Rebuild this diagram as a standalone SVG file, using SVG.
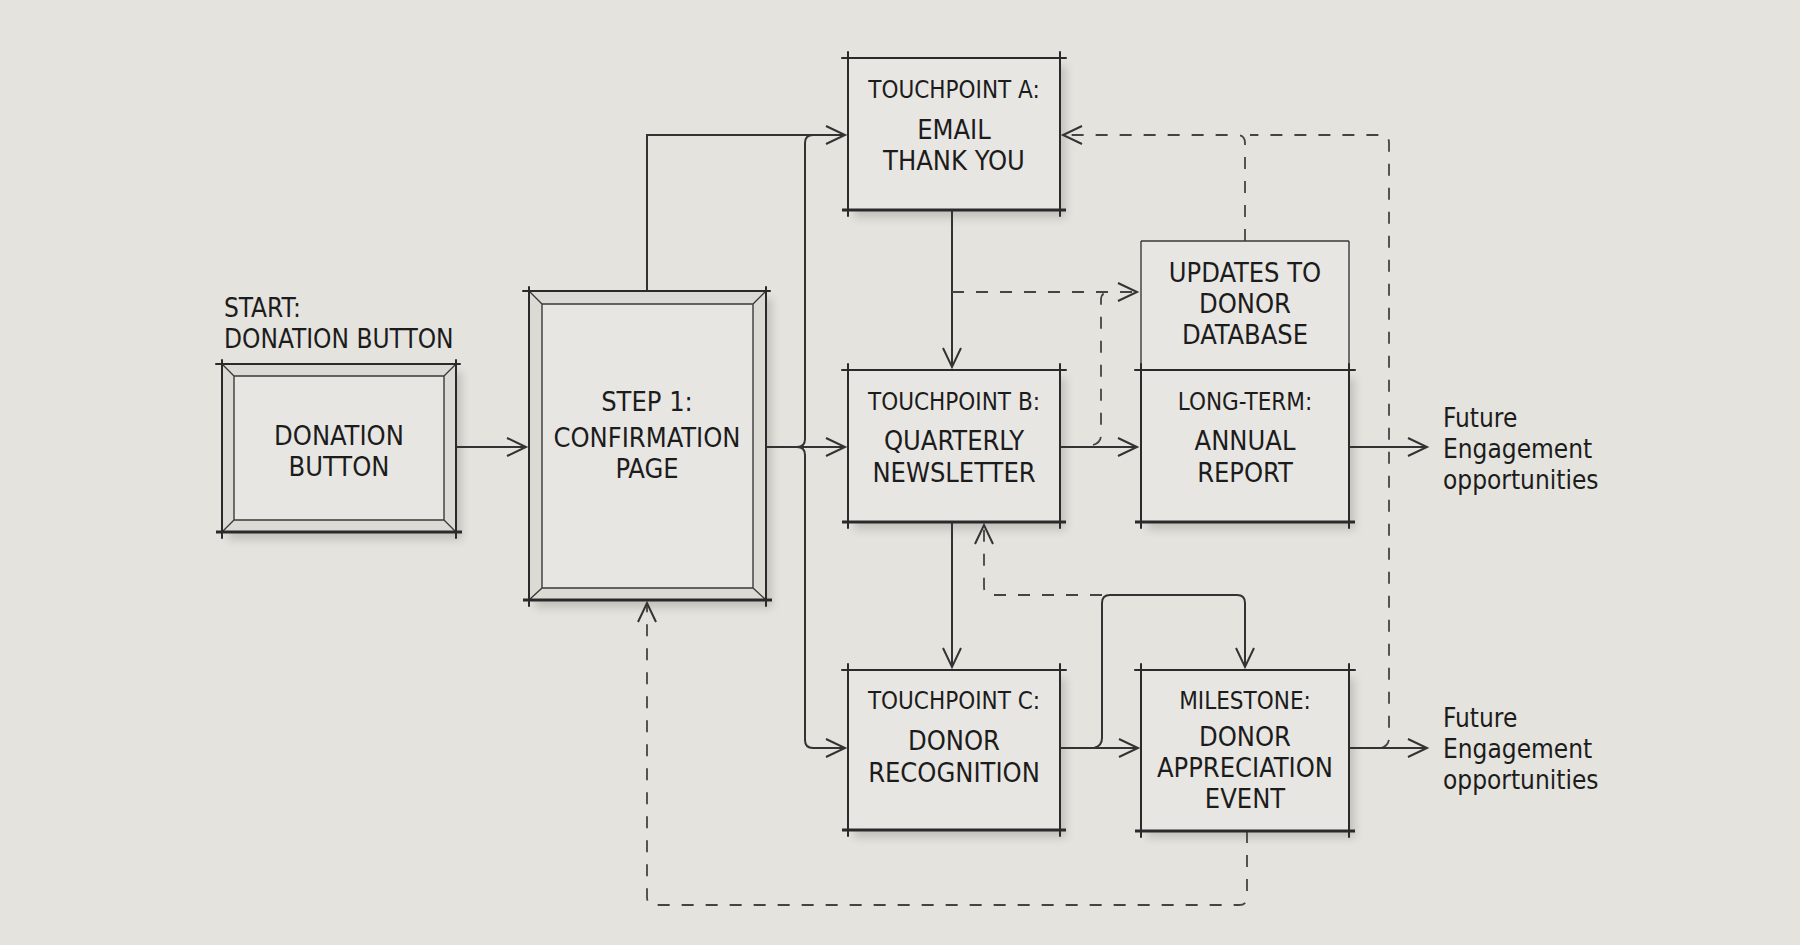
<svg xmlns="http://www.w3.org/2000/svg" width="1800" height="945" viewBox="0 0 1800 945">
<defs>
<style>
.bg{fill:#e5e3de}
.box{fill:#e8e6e2}
.edge{stroke:#2a2a2a;stroke-width:2;fill:none;stroke-linecap:round}
.edgeb{stroke:#2a2a2a;stroke-width:3;fill:none}
.thin{stroke:#3a3a3a;stroke-width:1.4;fill:none}
.band{fill:#dcdad5}
.lbl{font-family:"DejaVu Sans Condensed","DejaVu Sans",sans-serif;fill:#1c1c1c;text-anchor:middle}
.t{font-size:24px}
.m{font-size:27px}
.fut{font-family:"DejaVu Sans Condensed","DejaVu Sans",sans-serif;font-size:26px;fill:#1c1c1c}
.con{stroke:#333;stroke-width:2;fill:none}
.dash{stroke:#444;stroke-width:1.8;fill:none;stroke-dasharray:12 12}
</style>
<filter id="sh" x="-10%" y="-10%" width="130%" height="130%">
<feGaussianBlur stdDeviation="4"/>
</filter>
<marker id="arr" viewBox="0 0 24 24" markerWidth="24" markerHeight="24" refX="21" refY="12" orient="auto" markerUnits="userSpaceOnUse">
<path d="M2,3 L21,12 L2,21" fill="none" stroke="#333" stroke-width="2" stroke-dasharray="none" stroke-linejoin="miter"/>
</marker>
</defs>
<rect class="bg" x="0" y="0" width="1800" height="945"/>

<!-- shadows -->
<g id="shadows" fill="#9c9a95" opacity="0.45" filter="url(#sh)">
<rect x="228" y="372" width="234" height="168"/>
<rect x="535" y="298" width="237" height="310"/>
<rect x="854" y="66" width="212" height="152"/>
<rect x="854" y="378" width="212" height="152"/>
<rect x="854" y="678" width="212" height="160"/>
<rect x="1147" y="378" width="208" height="152"/>
<rect x="1147" y="678" width="208" height="160"/>
</g>

<g id="connectors">
<path class="con" d="M456,447 H526" marker-end="url(#arr)"/>
<path class="con" d="M766,447 H845" marker-end="url(#arr)"/>
<path class="con" d="M766,447 H797 Q805,447 805,439 V143 Q805,135 813,135 H845" marker-end="url(#arr)"/>
<path class="con" d="M647,290 V135 H813"/>
<path class="con" d="M766,447 H797 Q805,447 805,455 V740 Q805,748 813,748 H845" marker-end="url(#arr)"/>
<path class="con" d="M952,210 V367" marker-end="url(#arr)"/>
<path class="dash" d="M952,292 H1137" marker-end="url(#arr)"/>
<path class="con" d="M1060,447 H1137" marker-end="url(#arr)"/>
<path class="dash" d="M1093,445 Q1101,443 1101,435 V300 Q1101,292 1109,292"/>
<path class="dash" d="M1245,241 V143 Q1245,135 1237,135 H1063" marker-end="url(#arr)"/>
<path class="dash" d="M1381,748 Q1389,746 1389,738 V143 Q1389,135 1381,135 H1250"/>
<path class="con" d="M1349,447 H1427" marker-end="url(#arr)"/>
<path class="con" d="M1349,748 H1427" marker-end="url(#arr)"/>
<path class="con" d="M952,522 V667" marker-end="url(#arr)"/>
<path class="con" d="M1060,748 H1138" marker-end="url(#arr)"/>
<path class="con" d="M1094,748 Q1102,746 1102,738 V603 Q1102,595 1110,595 H1237 Q1245,595 1245,603 V667" marker-end="url(#arr)"/>
<path class="dash" d="M1102,595 H992 Q984,595 984,587 V525" marker-end="url(#arr)"/>
<path class="dash" d="M1247,831 V897 Q1247,905 1239,905 H655 Q647,905 647,897 V603" marker-end="url(#arr)"/>
</g>

<g id="start-label">
<text class="lbl" style="text-anchor:start;font-size:26px" x="224" y="317">START:</text>
<text class="lbl" style="text-anchor:start;font-size:26px" x="224" y="348">DONATION BUTTON</text>
</g>

<g id="donation-button">
<rect class="band" x="222" y="364" width="234" height="168"/>
<rect class="box" x="234" y="376" width="210" height="144"/>
<path class="thin" d="M234,376 H444 V520 H234 Z M222,364 L234,376 M456,364 L444,376 M222,532 L234,520 M456,532 L444,520"/>
<path class="edge" d="M216,364 H460 M222,360 V538 M456,360 V538"/>
<path class="edgeb" d="M216,532 H462"/>
<text class="lbl m" x="339" y="445">DONATION</text>
<text class="lbl m" x="339" y="476">BUTTON</text>
</g>

<g id="step1">
<rect class="band" x="529" y="291" width="237" height="309"/>
<rect class="box" x="542" y="304" width="211" height="284"/>
<path class="thin" d="M542,304 H753 V588 H542 Z M529,291 L542,304 M766,291 L753,304 M529,600 L542,588 M766,600 L753,588"/>
<path class="edge" d="M523,291 H770 M529,287 V606 M766,287 V606"/>
<path class="edgeb" d="M523,600 H772"/>
<text class="lbl m" x="647" y="411">STEP 1:</text>
<text class="lbl m" x="647" y="447">CONFIRMATION</text>
<text class="lbl m" x="647" y="478">PAGE</text>
</g>

<g id="touchpoint-a">
<rect class="box" x="848" y="58" width="212" height="152"/>
<path class="edge" d="M842,58 H1066 M848,52 V216 M1060,52 V216"/>
<path class="edgeb" d="M842,210 H1066"/>
<text class="lbl t" x="954" y="98">TOUCHPOINT A:</text>
<text class="lbl m" x="954" y="139">EMAIL</text>
<text class="lbl m" x="954" y="170">THANK YOU</text>
</g>

<g id="touchpoint-b">
<rect class="box" x="848" y="370" width="212" height="152"/>
<path class="edge" d="M842,370 H1066 M848,364 V528 M1060,364 V528"/>
<path class="edgeb" d="M842,522 H1066"/>
<text class="lbl t" x="954" y="410">TOUCHPOINT B:</text>
<text class="lbl m" x="954" y="450">QUARTERLY</text>
<text class="lbl m" x="954" y="482">NEWSLETTER</text>
</g>

<g id="touchpoint-c">
<rect class="box" x="848" y="670" width="212" height="160"/>
<path class="edge" d="M842,670 H1066 M848,664 V836 M1060,664 V836"/>
<path class="edgeb" d="M842,830 H1066"/>
<text class="lbl t" x="954" y="709">TOUCHPOINT C:</text>
<text class="lbl m" x="954" y="750">DONOR</text>
<text class="lbl m" x="954" y="782">RECOGNITION</text>
</g>

<g id="updates-db">
<rect class="box" x="1141" y="241" width="208" height="129"/>
<path class="thin" d="M1141,241 H1349 M1141,241 V370 M1349,241 V370"/>
<text class="lbl m" x="1245" y="282">UPDATES TO</text>
<text class="lbl m" x="1245" y="313">DONOR</text>
<text class="lbl m" x="1245" y="344">DATABASE</text>
</g>

<g id="long-term">
<rect class="box" x="1141" y="370" width="208" height="152"/>
<path class="edge" d="M1135,370 H1355 M1141,364 V528 M1349,364 V528"/>
<path class="edgeb" d="M1135,522 H1355"/>
<text class="lbl t" x="1245" y="410">LONG-TERM:</text>
<text class="lbl m" x="1245" y="450">ANNUAL</text>
<text class="lbl m" x="1245" y="482">REPORT</text>
</g>

<g id="milestone">
<rect class="box" x="1141" y="670" width="208" height="161"/>
<path class="edge" d="M1135,670 H1355 M1141,664 V837 M1349,664 V837"/>
<path class="edgeb" d="M1135,831 H1355"/>
<text class="lbl t" x="1245" y="709">MILESTONE:</text>
<text class="lbl m" x="1245" y="746">DONOR</text>
<text class="lbl m" x="1245" y="777">APPRECIATION</text>
<text class="lbl m" x="1245" y="808">EVENT</text>
</g>

<g id="future-1">
<text class="fut" x="1443" y="427">Future</text>
<text class="fut" x="1443" y="458">Engagement</text>
<text class="fut" x="1443" y="489">opportunities</text>
</g>

<g id="future-2">
<text class="fut" x="1443" y="727">Future</text>
<text class="fut" x="1443" y="758">Engagement</text>
<text class="fut" x="1443" y="789">opportunities</text>
</g>
</svg>
